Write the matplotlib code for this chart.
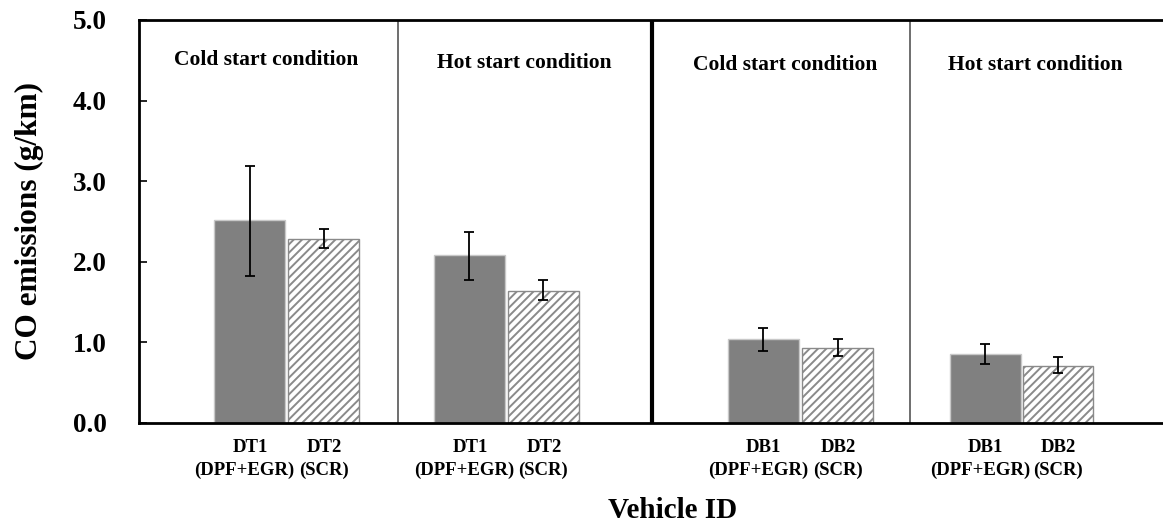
import matplotlib.pyplot as plt
import numpy as np

plt.rcParams['font.family'] = 'Liberation Serif'
plt.rcParams['font.weight'] = 'bold'
plt.rcParams['hatch.linewidth'] = 1.4
plt.rcParams['hatch.color'] = '#6f6f6f'

# dados
conditions = ['Cold start condition', 'Hot start condition', 'Cold start condition', 'Hot start condition']
vehicles = ['DT1', 'DT2', 'DT1', 'DT2', 'DB1', 'DB2', 'DB1', 'DB2']
systems = ['(DPF+EGR)', '(SCR)', '(DPF+EGR)', '(SCR)', '(DPF+EGR)', '(SCR)', '(DPF+EGR)', '(SCR)']
co_mean = [2.52, 2.28, 2.08, 1.64, 1.04, 0.93, 0.86, 0.71]
co_low = [1.83, 2.17, 1.78, 1.53, 0.89, 0.83, 0.73, 0.62]
co_high = [3.19, 2.41, 2.37, 1.77, 1.18, 1.04, 0.98, 0.82]

# posicoes (cada painel = 1 unidade)
xpos = np.array([0.432, 0.721, 1.291, 1.580, 2.438, 2.730, 3.305, 3.590])
width = 0.277

fig = plt.figure(figsize=(11.63, 5.27), dpi=100)
ax = fig.add_axes([139/1163, 1-423/527, 1-139/1163, (423-20)/527])

mean = np.array(co_mean)
yerr = [mean - np.array(co_low), np.array(co_high) - mean]

for i in range(len(xpos)):
    if i % 2 == 0:
        ax.bar(xpos[i], co_mean[i], width, color='#808080', edgecolor='#c8c8c8', linewidth=1, zorder=2)
    else:
        ax.bar(xpos[i], co_mean[i], width, color='white', edgecolor='#8a8a8a', hatch='////', linewidth=1, zorder=2)
ax.errorbar(xpos, co_mean, yerr=yerr, fmt='none', ecolor='black', elinewidth=1.3, capsize=3.5, capthick=1.3, zorder=3)

# divisorias
ax.axvline(1.012, color='#555555', linewidth=1.2)
ax.axvline(2.004, color='black', linewidth=3)
ax.axvline(3.012, color='#555555', linewidth=1.2)

title_x = [0.496, 1.504, 2.523, 3.50]
title_y = [4.50, 4.47, 4.44, 4.44]
for i in range(4):
    ax.text(title_x[i], title_y[i], conditions[i], ha='center', va='center', fontsize=15.5, fontweight='bold')

ax.set_xlim(0, 4.0)
ax.set_ylim(0, 5.0)
ax.set_yticks(np.arange(0, 5.1, 1.0))
ax.set_yticklabels(['%.1f' % v for v in np.arange(0, 5.1, 1.0)], fontsize=19.5, fontweight='bold')
ax.tick_params(axis='y', direction='in', length=6, width=1.2, pad=23)
ax.set_xticks([])

for i in range(len(xpos)):
    ax.text(xpos[i] + 0.002, -0.31, vehicles[i], ha='center', va='center', fontsize=13.5, fontweight='bold')
for i in range(len(xpos)):
    dx = -0.02 if i % 2 == 0 else 0.0
    ax.text(xpos[i] + dx, -0.585, systems[i], ha='center', va='center', fontsize=13.5, fontweight='bold')

ax.set_ylabel('CO emissions (g/km)', fontsize=22.5, fontweight='bold', labelpad=21)
ax.text(2.086, -1.08, 'Vehicle ID', ha='center', va='center', fontsize=21, fontweight='bold')

for s in ['left', 'bottom', 'top']:
    ax.spines[s].set_linewidth(2)
ax.spines['right'].set_visible(False)

fig.savefig('out.png', dpi=100)
